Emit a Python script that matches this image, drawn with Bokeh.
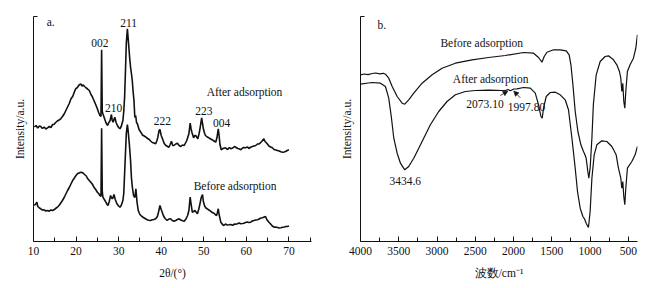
from bokeh.plotting import figure
from bokeh.layouts import row
from bokeh.models import Range1d, FixedTicker, Label, Arrow, NormalHead
from bokeh.embed import file_html
from bokeh.resources import INLINE

# ---------------- data: (a) XRD ----------------
xrd_after = [
    (10.2, 114.5), (10.6, 116), (11.0, 113.5), (11.4, 115.5), (11.7, 115), (12.1, 113), (12.5, 114.5),
    (12.9, 112.5), (13.3, 113.7), (13.7, 115), (14.1, 114), (14.5, 117), (14.8, 117), (15.2, 119),
    (15.6, 120.5), (16.0, 121.5), (16.4, 122.7), (16.8, 125), (17.2, 127.5), (17.6, 131), (18.0, 134.5),
    (18.4, 138), (18.8, 142.7), (19.2, 145), (19.6, 149.5), (19.9, 152.7), (20.3, 154), (20.7, 156.5),
    (21.1, 157.7), (21.4, 155.5), (21.7, 156.5), (22.0, 155), (22.4, 153.5), (22.7, 152.5), (23.1, 151),
    (23.5, 147), (23.8, 145), (24.2, 141), (24.6, 137), (25.0, 132.7), (25.3, 129), (25.6, 126),
    (25.85, 125), (26.0, 191.7), (26.15, 130), (26.3, 127.7), (26.7, 122.7), (27.0, 119), (27.4, 116),
    (27.7, 119), (28.0, 121), (28.3, 127), (28.5, 121), (28.7, 119.3), (28.9, 122), (29.1, 124.3),
    (29.4, 119), (29.7, 116), (30.0, 114), (30.3, 112.7), (30.6, 115), (31.0, 121), (31.2, 130),
    (31.4, 144.3), (31.6, 170), (31.8, 198), (32.05, 212.7), (32.2, 205), (32.4, 194.3), (32.6, 183),
    (32.8, 174.3), (33.0, 168), (33.2, 161), (33.4, 150), (33.6, 141), (33.8, 124), (34.0, 126),
    (34.2, 119), (34.4, 117.7), (34.8, 112), (35.2, 109.3), (35.6, 106.5), (36.0, 105.5), (36.4, 104.3),
    (36.8, 103), (37.2, 102), (37.5, 100.5), (37.9, 99), (38.3, 98.5), (38.7, 97.7), (39.0, 101),
    (39.2, 104.3), (39.5, 111), (39.7, 112), (40.0, 106), (40.3, 102.7), (40.7, 98), (41.1, 96),
    (41.5, 95), (41.8, 94.3), (42.1, 97), (42.4, 100.3), (42.7, 96), (43.0, 96), (43.4, 97.5),
    (43.8, 98.3), (44.2, 96), (44.6, 95), (45.0, 96.5), (45.4, 96), (45.7, 98.5), (46.0, 101),
    (46.3, 105), (46.5, 107.7), (46.8, 118.3), (47.0, 113), (47.2, 109.3), (47.6, 103.7), (47.9, 106),
    (48.1, 106), (48.4, 104), (48.6, 102.7), (48.9, 108), (49.1, 112.7), (49.5, 123.7), (49.7, 118),
    (49.9, 112.7), (50.2, 108), (50.4, 106), (50.8, 104.5), (51.2, 103.7), (51.6, 102.5), (52.0, 101.7),
    (52.4, 100.5), (52.8, 99.3), (53.1, 104), (53.4, 112.7), (53.6, 106), (53.8, 97), (54.1, 91.7),
    (54.5, 93), (55.1, 93.7), (55.6, 92), (56.0, 94), (56.3, 92.7), (56.8, 93.5), (57.2, 95),
    (57.5, 94.3), (58.0, 93), (58.4, 92.5), (58.7, 91.7), (59.1, 93.5), (59.4, 94), (59.8, 93.7),
    (60.3, 94.5), (60.6, 93), (61.0, 94.3), (61.4, 95), (61.8, 95.5), (62.2, 96), (62.6, 97.5),
    (62.9, 97.5), (63.2, 98.3), (63.6, 100), (64.1, 102.7), (64.4, 100), (64.9, 97.7), (65.3, 95.5),
    (65.7, 94.5), (66.1, 93.7), (66.5, 92), (66.9, 91.5), (67.3, 91), (67.7, 90.5), (68.1, 89.7),
    (68.5, 89.3), (68.9, 89.5), (69.3, 90.2), (69.6, 91), (70.0, 91.7),
]
xrd_before = [
    (10.2, 36), (10.5, 37.5), (10.8, 39.3), (11.0, 35), (11.4, 33.5), (11.7, 32.7), (12.1, 31.5),
    (12.5, 31.7), (12.9, 30.5), (13.3, 31), (13.7, 30.3), (14.1, 31.5), (14.5, 31), (14.9, 32),
    (15.2, 33), (15.6, 34.3), (16.0, 36), (16.4, 38.5), (16.8, 41), (17.2, 44), (17.6, 47.5),
    (18.0, 51), (18.4, 54), (18.8, 57.5), (19.2, 61), (19.6, 63.5), (19.9, 65.5), (20.3, 67.7),
    (20.7, 68.5), (21.1, 69.3), (21.4, 69), (21.7, 68.3), (22.0, 67), (22.4, 65.5), (22.7, 63),
    (23.1, 61), (23.5, 59), (23.8, 57.5), (24.2, 54.3), (24.6, 52), (25.0, 49.3), (25.3, 48),
    (25.6, 46), (25.85, 45), (26.0, 113.3), (26.15, 50), (26.3, 44.3), (26.7, 41.5), (27.0, 39.3),
    (27.3, 37), (27.5, 36), (27.8, 40), (28.1, 46), (28.3, 44), (28.5, 42.7), (28.7, 44), (28.9, 47),
    (29.2, 42), (29.6, 37.7), (30.0, 35.5), (30.3, 34.3), (30.6, 36), (31.0, 41), (31.2, 48),
    (31.4, 67.7), (31.6, 88), (31.8, 108), (32.05, 117), (32.2, 112), (32.5, 98), (32.8, 81),
    (33.0, 64), (33.2, 55), (33.5, 46), (33.8, 44), (34.05, 52.7), (34.3, 40), (34.6, 31), (35.0, 27),
    (35.4, 25.3), (35.8, 24), (36.2, 23), (36.6, 22), (37.0, 21.3), (37.5, 21), (37.9, 21.7),
    (38.3, 22), (38.7, 22.7), (39.1, 25), (39.4, 30), (39.7, 36), (40.0, 32), (40.3, 28.5), (40.5, 26),
    (40.9, 23), (41.4, 21), (41.8, 22.5), (42.2, 22.7), (42.6, 21), (43.0, 20.3), (43.4, 21),
    (43.8, 22), (44.2, 22.7), (44.6, 21.5), (45.0, 20.7), (45.4, 20.3), (45.8, 22.5), (46.2, 26),
    (46.5, 31), (46.8, 44.3), (47.0, 38), (47.3, 29.3), (47.6, 30), (47.9, 31), (48.2, 29.5),
    (48.5, 27.7), (48.8, 32), (49.1, 37.7), (49.4, 44), (49.7, 47), (49.9, 40), (50.2, 35.5),
    (50.5, 33.5), (50.8, 32.7), (51.2, 31.5), (51.6, 30.3), (52.0, 29), (52.4, 28.3), (52.7, 27),
    (53.0, 26), (53.2, 29), (53.4, 32.7), (53.6, 27), (54.0, 19.3), (54.4, 17), (54.7, 16),
    (55.1, 17.5), (55.5, 16.5), (56.0, 16.7), (56.3, 17), (56.8, 16.2), (57.2, 17.5), (57.5, 17.2),
    (57.9, 17.7), (58.3, 18.5), (58.7, 17.7), (59.1, 18), (59.4, 18.3), (59.8, 19), (60.2, 19.5),
    (60.6, 19), (61.0, 19.3), (61.4, 20.5), (61.8, 21), (62.2, 21.5), (62.6, 21.7), (63.0, 22.5),
    (63.4, 23.5), (63.8, 23.7), (64.2, 24.5), (64.5, 25), (64.8, 22), (65.3, 19.3), (65.7, 17.5),
    (66.1, 15.5), (66.5, 14.3), (66.9, 14.5), (67.3, 14), (67.7, 13.5), (68.1, 13.7), (68.5, 14.2),
    (68.9, 14.5), (69.3, 15), (69.6, 15), (70.0, 15.5),
]
xrd_peak_labels = ["002", "210", "211", "222", "223", "004"]
xrd_peak_label_x = [25.6, 28.8, 32.36, 40.28, 50.04, 54.2]
xrd_peak_label_y = [198.5, 133.5, 218.5, 120.2, 131, 118.5]
xrd_ticks = [10, 20, 30, 40, 50, 60, 70]
xrd_minor_ticks = [15, 25, 35, 45, 55, 65, 75]

# ---------------- data: (b) FTIR ----------------
ftir_wn_before = [4000, 3950, 3900, 3847, 3800, 3750, 3700, 3674, 3631, 3586, 3521, 3456, 3422, 3370,
                  3304, 3195, 3064, 2934, 2760, 2542, 2326, 2108, 1869, 1738, 1673, 1629, 1599, 1564,
                  1477, 1390, 1312, 1273, 1250, 1224, 1194, 1159, 1120, 1086, 1068, 1051, 1029, 1016,
                  999, 976, 957, 920, 868, 803, 760, 694, 650, 616, 598, 585, 572, 559, 546, 533, 512,
                  477, 433, 402, 381]
ftir_before = [166.7, 167.5, 166.8, 168, 168.5, 167.6, 168.2, 167.3, 163.3, 155, 145, 138.3, 137.3, 141.7,
               148.3, 158.3, 166.7, 173.3, 178.3, 181.7, 184, 186, 189, 188.3, 184, 179.3, 185, 189.3,
               191.7, 191.7, 190.7, 186.7, 176.7, 156.7, 130, 110, 96.7, 90, 87, 83.3, 70, 63.3,
               73.3, 103.3, 136.7, 166.7, 180, 185, 185.7, 181.7, 176.7, 170, 163.3, 150, 158.3, 140, 133.3,
               150, 170, 176.7, 183.3, 193.3, 206.7]
ftir_wn_after = [4000, 3900, 3847, 3739, 3674, 3631, 3595, 3565, 3521, 3478, 3422, 3370, 3304, 3195,
                 3087, 2978, 2869, 2760, 2630, 2499, 2326, 2151, 2108, 2073, 2042, 1997, 1955, 1869,
                 1781, 1716, 1673, 1642, 1625, 1608, 1573, 1520, 1455, 1390, 1325, 1282, 1237, 1194,
                 1164, 1129, 1094, 1073, 1051, 1021, 999, 976, 946, 911, 846, 781, 715, 659, 629, 598,
                 585, 572, 559, 546, 533, 512, 454, 411, 381]
ftir_after = [157.3, 158.5, 159, 158.3, 155, 143.3, 123.3, 103.3, 88.3, 78.3, 71.7, 75, 83.3, 100,
              116.7, 130, 140, 146.7, 150, 151, 151.3, 151, 151, 152, 150.7, 152.5, 152.7, 154,
              153.3, 148.3, 136.7, 125, 123.3, 133.3, 145, 149, 149.3, 146.7, 141.7, 131.7, 103.3, 73.3,
              50, 33.3, 25, 22.7, 18.3, 14, 30, 63.3, 86.7, 96.7, 100.7, 100, 95, 86.7, 73.3, 63.3,
              53.3, 60, 45, 36.7, 53.3, 73.3, 80, 86.7, 95]
ftir_arrow_peaks = [2073.10, 1997.80]
ftir_arrow_from_x = [2173, 1912]
ftir_arrow_from_y = [146, 143.7]
ftir_labels = ["2073.10", "1997.80", "3434.6"]
ftir_label_x = [2617, 2075, 3622]
ftir_label_y = [138, 134.5, 61]
ftir_ticks = [4000, 3500, 3000, 2500, 2000, 1500, 1000, 500]
ftir_minor_ticks = [3750, 3250, 2750, 2250, 1750, 1250, 750]

FONT = "Liberation Serif"
FS = "11.5px"
INK = "#111111"


def make_fig(x_range, majors, minors, bl, br, xlabel):
    p = figure(width=331, height=288, x_range=x_range, y_range=Range1d(0, 225),
               output_backend="svg", toolbar_location=None,
               min_border_left=bl, min_border_right=br, min_border_top=16, min_border_bottom=47)
    p.outline_line_color = None
    p.grid.visible = False
    p.background_fill_color = "white"
    p.border_fill_color = "white"
    xa = p.xaxis[0]
    xa.ticker = FixedTicker(ticks=majors, minor_ticks=minors)
    xa.major_tick_in = 5
    xa.major_tick_out = 0
    xa.minor_tick_in = 4
    xa.minor_tick_out = 0
    xa.major_tick_line_color = INK
    xa.minor_tick_line_color = INK
    xa.axis_line_color = INK
    xa.major_label_standoff = 5
    xa.major_label_text_font = FONT
    xa.major_label_text_font_size = FS
    xa.major_label_text_color = INK
    xa.axis_label = xlabel
    xa.axis_label_text_font = FONT
    xa.axis_label_text_font_size = FS
    xa.axis_label_text_font_style = "normal"
    xa.axis_label_text_color = INK
    xa.axis_label_standoff = 9
    ya = p.yaxis[0]
    ya.ticker = FixedTicker(ticks=[225])
    ya.major_label_overrides = {225: ""}
    ya.major_tick_in = 4
    ya.major_tick_out = 0
    ya.minor_tick_line_color = None
    ya.major_tick_line_color = INK
    ya.axis_line_color = INK
    ya.major_label_standoff = 0
    ya.axis_label = "Intensity/a.u."
    ya.axis_label_text_font = FONT
    ya.axis_label_text_font_size = FS
    ya.axis_label_text_font_style = "normal"
    ya.axis_label_text_color = INK
    ya.axis_label_standoff = 8
    return p


def lbl(p, x, y, text, align="left", size=FS, style="normal", font=FONT):
    p.add_layout(Label(x=x, y=y, text=text, text_font=font, text_font_size=size,
                       text_font_style=style, text_color=INK, text_align=align,
                       text_baseline="middle"))


# ---------- panel a ----------
p1 = make_fig(Range1d(10, 75.3), xrd_ticks, xrd_minor_ticks, 33, 20, "2θ/(°)")
ax, ay = zip(*xrd_after)
bx, by = zip(*xrd_before)
p1.line(list(ax), list(ay), line_color=INK, line_width=1.6)
p1.line(list(bx), list(by), line_color=INK, line_width=1.6)
for t, x, y in zip(xrd_peak_labels, xrd_peak_label_x, xrd_peak_label_y):
    lbl(p1, x, y, t, align="center")
lbl(p1, 13.1, 219.3, "a.")
lbl(p1, 50.68, 149.3, "After adsorption")
lbl(p1, 47.63, 56, "Before adsorption")

# ---------- panel b ----------
p2 = make_fig(Range1d(4000, 380), ftir_ticks, ftir_minor_ticks, 29, 25, "波数/cm⁻¹")
p2.line(ftir_wn_before, ftir_before, line_color=INK, line_width=1.2)
p2.line(ftir_wn_after, ftir_after, line_color=INK, line_width=1.2)
for t, x, y in zip(ftir_labels, ftir_label_x, ftir_label_y):
    lbl(p2, x, y, t)
lbl(p2, 3778, 217, "b.")
lbl(p2, 2956, 199, "Before adsorption")
lbl(p2, 2793, 163, "After adsorption")
for xe, xs, ys in zip(ftir_arrow_peaks, ftir_arrow_from_x, ftir_arrow_from_y):
    p2.add_layout(Arrow(end=NormalHead(size=5, fill_color=INK, line_color=INK, line_width=0.5),
                        x_start=xs, y_start=ys, x_end=xe, y_end=150.5,
                        line_color=INK, line_width=0.8))

layout = row(p1, p2)
open("out.html", "w").write(file_html(layout, INLINE))
